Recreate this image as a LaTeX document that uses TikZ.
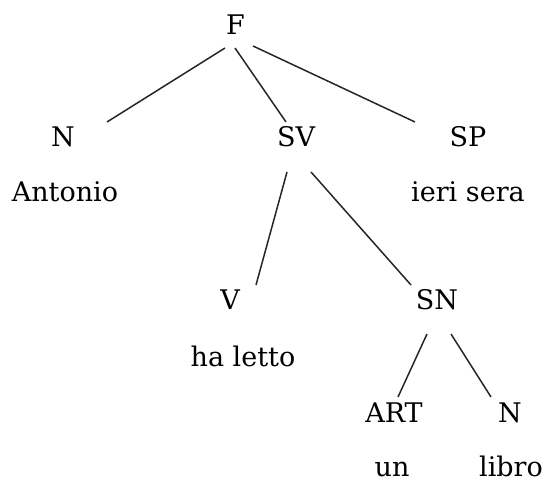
\documentclass[tikz,border=0pt]{standalone}
\usepackage{fontspec}
\setmainfont{DejaVu Serif}
\begin{document}
\begin{tikzpicture}[x=1pt,y=1pt,
  lbl/.style={anchor=base,inner sep=0pt,font=\fontsize{27}{32}\selectfont},
  branch/.style={line width=1.5pt,black!85}]
\useasboundingbox (0,0) rectangle (551,482);
% category labels
\node[lbl] (F)   at (235.5,447) {F};
\node[lbl] (N)   at (63,335)    {N};
\node[lbl] (SV)  at (296,335)   {SV};
\node[lbl] (SP)  at (468,335)   {SP};
\node[lbl] (V)   at (230,172)   {V};
\node[lbl] (SN)  at (437,172)   {SN};
\node[lbl] (ART) at (394,60)    {ART};
\node[lbl] (N2)  at (510,60)    {N};
% words
\node[lbl] (w1) at (65,280)  {Antonio};
\node[lbl] (w2) at (468,280) {ieri sera};
\node[lbl] (w3) at (243,116) {ha letto};
\node[lbl] (w4) at (392,6)   {un};
\node[lbl] (w5) at (511,6)   {libro};
% branches
\draw[branch] ([shift={(-10.5,-13)}]F.base) -- ([shift={(44,25)}]N.base);
\draw[branch] ([shift={(-0.5,-13)}]F.base)  -- ([shift={(-10,25)}]SV.base);
\draw[branch] ([shift={(17.5,-11)}]F.base)  -- ([shift={(-53,25)}]SP.base);
\draw[branch] ([shift={(-9,-25)}]SV.base)   -- ([shift={(26,25)}]V.base);
\draw[branch] ([shift={(15,-25)}]SV.base)   -- ([shift={(-26,25)}]SN.base);
\draw[branch] ([shift={(-10,-24)}]SN.base)  -- ([shift={(4,25)}]ART.base);
\draw[branch] ([shift={(14,-24)}]SN.base)   -- ([shift={(-19,25)}]N2.base);
\end{tikzpicture}
\end{document}
